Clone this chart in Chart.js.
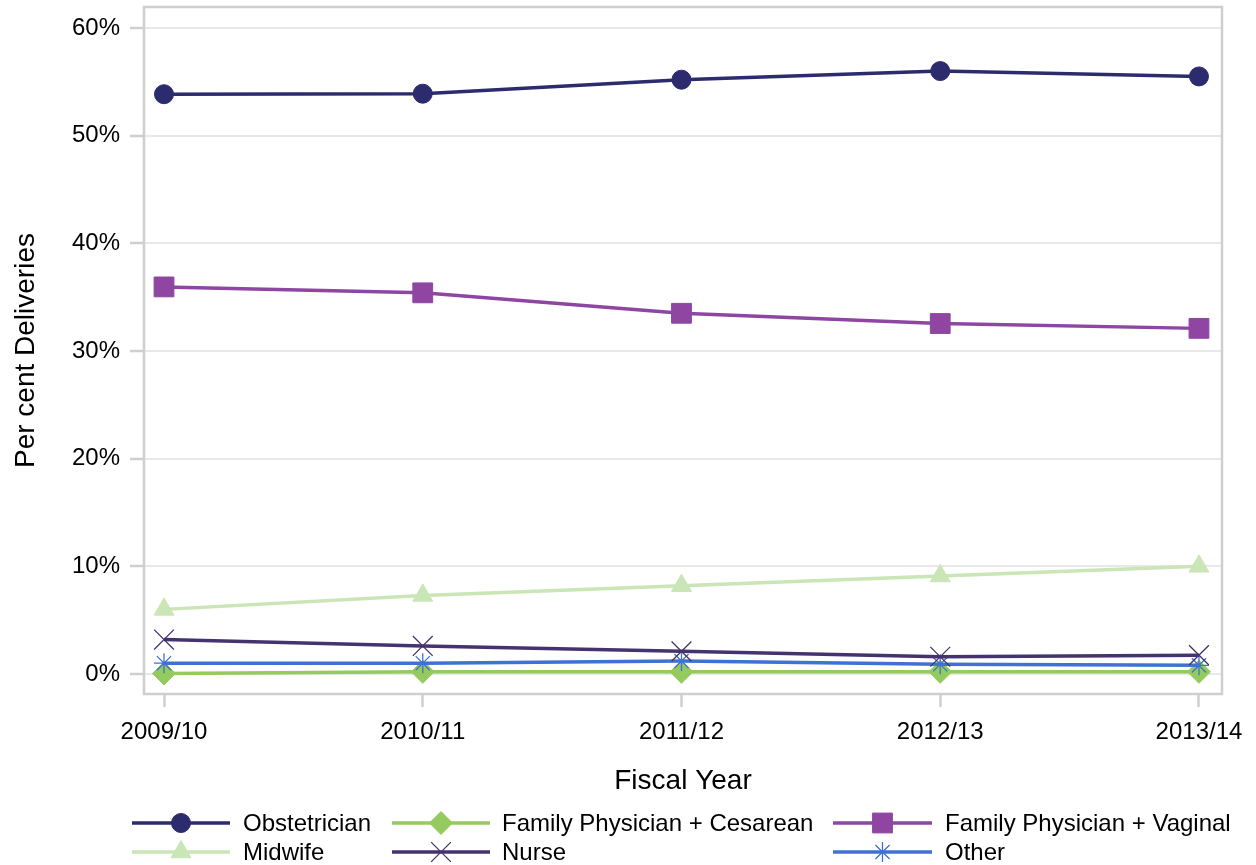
<!DOCTYPE html>
<html>
<head>
<meta charset="utf-8">
<script src="https://cdn.jsdelivr.net/npm/chart.js@4.4.1/dist/chart.umd.min.js"></script>
<style>
  html, body { margin: 0; padding: 0; background: #fff; }
  #wrap { width: 1256px; height: 865px; }
</style>
</head>
<body>
<div id="wrap"><canvas id="chart"></canvas></div>
<script>
// fiscal years on the x axis
const years = ["2009/10", "2010/11", "2011/12", "2012/13", "2013/14"];

// per cent of deliveries by provider
const obstetrician = [53.85, 53.9, 55.2, 56.0, 55.5];
const fpCesarean = [0.05, 0.2, 0.2, 0.2, 0.2];
const fpVaginal = [35.95, 35.4, 33.5, 32.55, 32.1];
const midwife = [6.0, 7.3, 8.2, 9.1, 10.0];
const nurse = [3.2, 2.6, 2.1, 1.6, 1.75];
const other = [1.0, 1.0, 1.2, 0.9, 0.8];

const yTicks = [0, 10, 20, 30, 40, 50, 60];

const FONT = "'Liberation Sans', Arial, sans-serif";

function pts(arr) {
    return arr.map((v, i) => ({x: i, y: v}));
}

function series(label, arr, color, style, radius, order, extra) {
    return Object.assign({
        label: label,
        data: pts(arr),
        borderColor: color,
        backgroundColor: color,
        borderWidth: 3.5,
        pointStyle: style,
        pointRadius: radius,
        pointHoverRadius: radius,
        pointBorderColor: color,
        pointBackgroundColor: color,
        pointBorderWidth: 1,
        tension: 0,
        order: order
    }, extra || {});
}

const datasets = [
    series("Obstetrician", obstetrician, "#2b2b6e", "circle", 9.5, 0),
    series("Family Physician + Cesarean", fpCesarean, "#94ca5e", "rectRot", 11.5, 5),
    series("Family Physician + Vaginal", fpVaginal, "#8e46a2", "rect", 14, 1),
    series("Midwife", midwife, "#cae5b6", "triangle", 11.5, 2),
    series("Nurse", nurse, "#45336f", "crossRot", 14, 3, {pointBorderWidth: 1.3}),
    series("Other", other, "#3f72d2", "star", 10, 4, {pointBorderWidth: 1.3})
];

// legend in three columns under the axis title
const legendCols = [{x1: 132, x2: 230, tx: 243}, {x1: 392, x2: 490, tx: 502}, {x1: 833, x2: 932, tx: 945}];
const legendRows = [823, 852];

const gridBox = {
    id: 'gridBox',
    beforeDatasetsDraw(chart) {
        const a = chart.chartArea;
        const ctx = chart.ctx;
        ctx.save();
        ctx.strokeStyle = '#cfcfcf';
        ctx.lineWidth = 2.5;
        ctx.strokeRect(a.left, a.top, a.right - a.left, a.bottom - a.top);
        ctx.restore();
    },
    afterDraw(chart) {
        const ctx = chart.ctx;
        ctx.save();
        chart.data.datasets.forEach((ds, i) => {
            const col = legendCols[i % 3];
            const y = legendRows[Math.floor(i / 3)];
            ctx.strokeStyle = ds.borderColor;
            ctx.lineWidth = ds.borderWidth;
            ctx.beginPath();
            ctx.moveTo(col.x1, y);
            ctx.lineTo(col.x2, y);
            ctx.stroke();
            ctx.fillStyle = ds.pointBackgroundColor;
            ctx.strokeStyle = ds.pointBorderColor;
            ctx.lineWidth = ds.pointBorderWidth;
            Chart.helpers.drawPoint(ctx, {
                pointStyle: ds.pointStyle,
                radius: ds.pointRadius,
                borderWidth: ds.pointBorderWidth,
                rotation: 0
            }, (col.x1 + col.x2) / 2, y);
            ctx.fillStyle = '#000';
            ctx.font = '24px ' + FONT;
            ctx.textBaseline = 'middle';
            ctx.textAlign = 'left';
            ctx.fillText(ds.label, col.tx, y + 1);
        });
        ctx.restore();
    }
};

new Chart(document.getElementById('chart'), {
    type: 'line',
    data: {datasets: datasets},
    plugins: [gridBox],
    options: {
        responsive: true,
        maintainAspectRatio: false,
        animation: false,
        layout: {autoPadding: false, padding: {top: 7, right: 34, bottom: 0, left: 0}},
        plugins: {
            legend: {display: false},
            tooltip: {enabled: false}
        },
        scales: {
            x: {
                type: 'linear',
                min: -0.0773,
                max: 4.089,
                afterBuildTicks: scale => {
                    scale.ticks = years.map((y, i) => ({value: i}));
                },
                afterFit: scale => {
                    scale.height = 171;
                    scale.paddingLeft = 0;
                    scale.paddingRight = 0;
                },
                ticks: {
                    callback: v => years[v],
                    color: '#000',
                    font: {family: FONT, size: 24},
                    padding: 11,
                    maxRotation: 0,
                    autoSkip: false
                },
                grid: {
                    drawOnChartArea: false,
                    drawTicks: true,
                    tickLength: 13,
                    tickColor: '#cfcfcf',
                    tickWidth: 2.5
                },
                border: {display: false},
                title: {
                    display: true,
                    text: 'Fiscal Year',
                    color: '#000',
                    font: {family: FONT, size: 28},
                    padding: {top: 0, bottom: 67}
                }
            },
            y: {
                min: -1.86,
                max: 61.95,
                afterBuildTicks: scale => {
                    scale.ticks = yTicks.map(v => ({value: v}));
                },
                afterFit: scale => {
                    scale.width = 144;
                    scale.paddingTop = 0;
                    scale.paddingBottom = 0;
                },
                ticks: {
                    callback: v => v + '%',
                    color: '#000',
                    font: {family: FONT, size: 24},
                    padding: 10
                },
                grid: {
                    color: '#e8e8e8',
                    lineWidth: 2,
                    tickColor: '#cfcfcf',
                    tickLength: 14,
                    tickWidth: 2.5
                },
                border: {display: false},
                title: {
                    display: true,
                    text: 'Per cent Deliveries',
                    color: '#000',
                    font: {family: FONT, size: 28},
                    padding: {top: 9, bottom: 0}
                }
            }
        }
    }
});
</script>
</body>
</html>
